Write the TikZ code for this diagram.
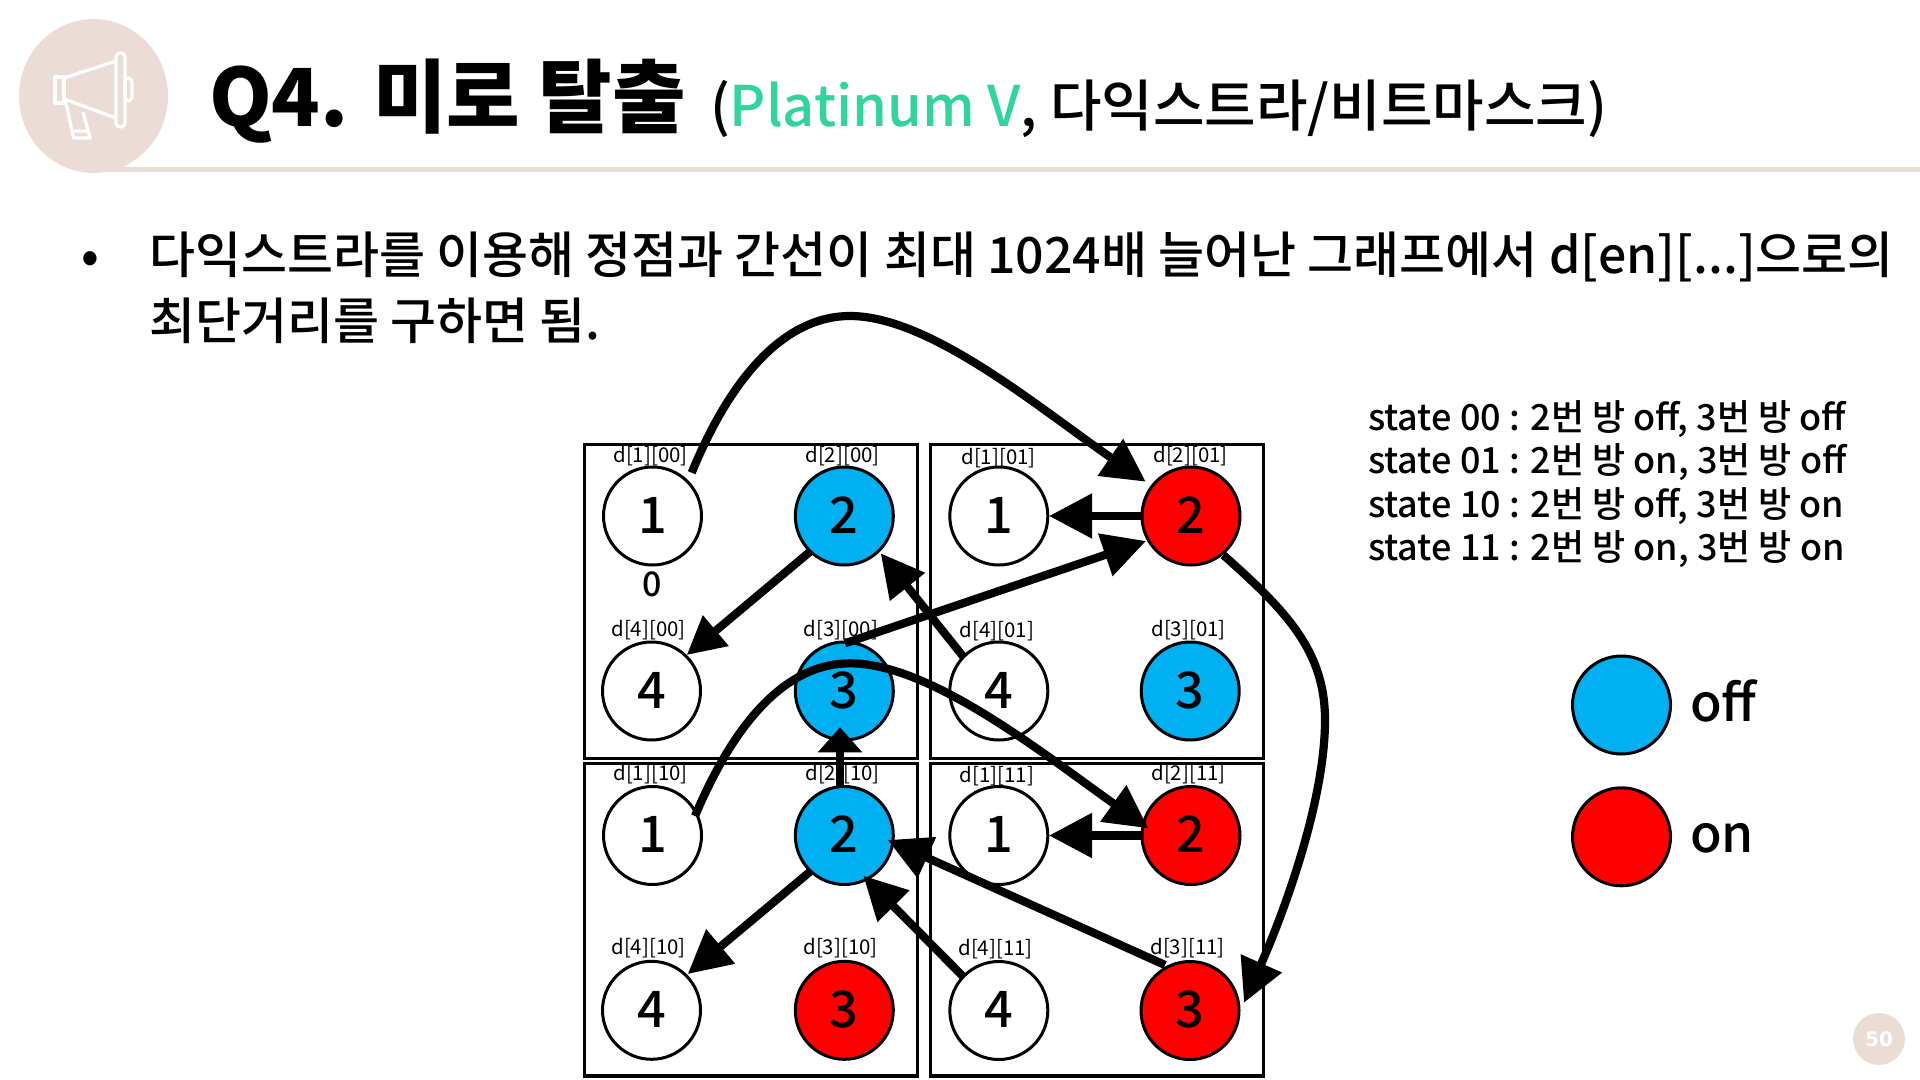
\documentclass[tikz,border=0pt]{standalone}
\usepackage{fontspec}
\usetikzlibrary{arrows.meta,calc}
\setmainfont{Noto Sans CJK KR}
\newfontfamily\medfont{Noto Sans CJK KR Medium}
\newfontfamily\numfont{DejaVu Sans}
\definecolor{beige}{HTML}{EBDDD6}
\definecolor{offblue}{HTML}{00B0F0}
\definecolor{onred}{HTML}{FF0000}
\definecolor{plat}{HTML}{30D59B}
\tikzset{
  room/.style={circle,draw=black,line width=1.5pt,minimum size=49pt,inner sep=0pt,outer sep=0pt,text height=17.2pt,text depth=0pt,font=\medfont\fontsize{25.2pt}{28pt}\selectfont},
  blank/.style={room,fill=white},
  offroom/.style={room,fill=offblue},
  onroom/.style={room,fill=onred},
  panel/.style={rectangle,draw=black,line width=1.7pt,minimum width=166.4pt,inner sep=0pt,outer sep=0pt},
  dlabel/.style={inner sep=0pt,yshift=-0.5pt,font=\fontsize{10.2pt}{12pt}\selectfont},
  txt/.style={anchor=base west,inner sep=0pt,outer sep=0pt},
  bodytxt/.style={txt,font=\medfont\fontsize{25pt}{30pt}\selectfont},
  statetxt/.style={txt,font=\medfont\fontsize{18pt}{22pt}\selectfont},
  link/.style={line width=4.1pt,-{Triangle[length=21.5pt,width=21.5pt]}},
  smalllink/.style={line width=4.1pt,-{Triangle[length=19pt,width=19pt]}},
  stub/.style={line width=4.4pt,-{Triangle[length=12.5pt,width=21.5pt]}},
  megaphone/.style={draw=white,line width=1.6pt,line join=round}
}
\begin{document}
\begin{tikzpicture}[x=0.5pt,y=-0.5pt]
\useasboundingbox (0,0) rectangle (1920,1080);
% header
\fill[beige] (100,167) rectangle (1920,172);
\fill[beige] (93.5,96) ellipse [x radius=74.5,y radius=77];
\draw[megaphone] (64,78) -- (116,61) (64,99) -- (116,118);
\draw[megaphone,rounded corners=2pt] (116,53) rectangle (125,127);
\draw[megaphone] (55,77) rectangle (64,103);
\draw[megaphone,rounded corners=2pt] (125,78) rectangle (132,101);
\draw[megaphone] (66,103) -- (73.5,138) -- (90,138) -- (83,112) (74,131) -- (89,131);
\node[txt,font=\fontsize{40pt}{44pt}\selectfont\bfseries] (title) at (209,127) {Q4. 미로 탈출};
\node[txt,font=\medfont\fontsize{28pt}{32pt}\selectfont] (subtitle) at (710,127) {(\textcolor{plat}{Platinum V}, 다익스트라/비트마스크)};
% body
\node[bodytxt] (bullet) at (81,274) {•};
\node[bodytxt] (line1) at (149,274) {다익스트라를 이용해 정점과 간선이 최대 1024배 늘어난 그래프에서 d[en][...]으로의};
\node[bodytxt] (line2) at (149,340) {최단거리를 구하면 됨.};
% panels
\node[panel,minimum height=157pt] (p00) at (750.9,601.3) {};
\node[panel,minimum height=157pt] (p01) at (1096.8,601.3) {};
\node[panel,minimum height=156.35pt] (p10) at (750.9,919.65) {};
\node[panel,minimum height=156.35pt] (p11) at (1096.8,919.65) {};
% rooms
\node[blank]   (a100) at (652.5,516) {1};
\node[offroom] (a200) at (844.3,516) {2};
\node[blank]   (a400) at (651.5,691) {4};
\node[offroom] (a300) at (844.3,691) {3};
\node[blank]   (a101) at (998.8,516) {1};
\node[onroom]  (a201) at (1191,516) {2};
\node[blank]   (a401) at (998.8,691) {4};
\node[offroom] (a301) at (1190.2,691) {3};
\node[blank]   (a110) at (652.5,835.5) {1};
\node[offroom] (a210) at (844.3,835.5) {2};
\node[blank]   (a410) at (651.5,1010.3) {4};
\node[onroom]  (a310) at (844.3,1010.3) {3};
\node[blank]   (a111) at (998.8,835.5) {1};
\node[onroom]  (a211) at (1191,835.5) {2};
\node[blank]   (a411) at (998.8,1010.5) {4};
\node[onroom]  (a311) at (1190,1010.5) {3};
\node[font=\medfont\fontsize{17pt}{20pt}\selectfont,inner sep=0pt] (zero) at (652,584.7) {0};
% labels
\node[dlabel] (l100) at (650.5,455.5) {d[1][00]};
\node[dlabel] (l200) at (842.5,455.5) {d[2][00]};
\node[dlabel] (l101) at (998.5,457) {d[1][01]};
\node[dlabel] (l201) at (1190.5,455.5) {d[2][01]};
\node[dlabel] (l400) at (648.5,629) {d[4][00]};
\node[dlabel] (l300) at (841,629) {d[3][00]};
\node[dlabel] (l401) at (996.8,630) {d[4][01]};
\node[dlabel] (l301) at (1188.5,629) {d[3][01]};
\node[dlabel] (l110) at (650.5,773) {d[1][10]};
\node[dlabel] (l210) at (842.5,773) {d[2][10]};
\node[dlabel] (l111) at (996.8,775) {d[1][11]};
\node[dlabel] (l211) at (1188.5,773.5) {d[2][11]};
\node[dlabel] (l410) at (648.5,947) {d[4][10]};
\node[dlabel] (l310) at (840.5,947) {d[3][10]};
\node[dlabel] (l411) at (995.5,948.3) {d[4][11]};
\node[dlabel] (l311) at (1187.5,947) {d[3][11]};
% connectors
\draw[link] ($(a100)+(39.2,-43.3)$) .. controls (738,360) and (795,316) .. (850,316) .. controls (930,316) and (1039,408) .. ($(a201)+(-45.3,-34.3)$);
\draw[smalllink] ($(a200)+(-34.3,35.7)$) -- ($(a400)+(35.2,-36)$);
\draw[link] ($(a201)+(-49.3,0)$) -- ($(a101)+(50.2,0)$);
\draw[link] ($(a300)+(0.7,-47.7)$) -- ($(a201)+(-45,25)$);
\draw[link] ($(a401)+(-35.5,-34.3)$) -- ($(a200)+(36.4,37.3)$);
\draw[link] ($(a201)+(32.3,39)$) .. controls (1285,610) and (1325,650) .. (1325,720) .. controls (1325,800) and (1285,910) .. ($(a311)+(54,-7.8)$);
\draw[link] ($(a110)+(42.5,-19.5)$) .. controls (741,707) and (795,663.3) .. (850,663.3) .. controls (930,663.3) and (1041,752) .. ($(a211)+(-42.7,-7.2)$);
\draw[stub] ($(a210)+(-4.3,-50)$) -- ($(a300)+(-4.3,36.3)$);
\draw[link] ($(a211)+(-49.3,0)$) -- ($(a111)+(50.2,0)$);
\draw[link] ($(a210)+(-34.3,36.2)$) -- ($(a410)+(36.2,-36.3)$);
\draw[link] ($(a411)+(-35.5,-33.8)$) -- ($(a210)+(19,40.2)$);
\draw[link] ($(a311)+(-25,-45.5)$) -- ($(a210)+(43.4,4.5)$);
% state text
\node[statetxt] (s0) at (1368,430.6) {state 00 : 2번 방 off, 3번 방 off};
\node[statetxt] (s1) at (1368,473.6) {state 01 : 2번 방 on, 3번 방 off};
\node[statetxt] (s2) at (1368,517) {state 10 : 2번 방 off, 3번 방 on};
\node[statetxt] (s3) at (1368,560.4) {state 11 : 2번 방 on, 3번 방 on};
% legend
\node[offroom] (legoff) at (1621.5,705) {};
\node[onroom] (legon) at (1621.5,836.8) {};
\node[txt,font=\medfont\fontsize{25.8pt}{30pt}\selectfont] (toff) at (1690,721.7) {off};
\node[txt,font=\medfont\fontsize{25.8pt}{30pt}\selectfont] (ton) at (1690,852.4) {on};
% page number
\node[circle,fill=beige,minimum size=26pt,inner sep=0pt,text=white,font=\numfont\fontsize{10pt}{12pt}\selectfont\bfseries] (page) at (1879,1039) {50};
\end{tikzpicture}
\end{document}
